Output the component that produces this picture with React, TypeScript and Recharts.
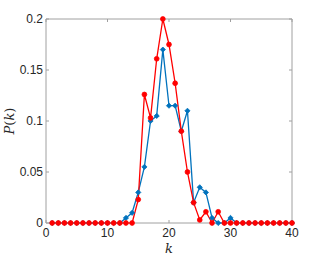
import { LineChart, Line, XAxis, YAxis } from 'recharts'

const K = Array.from({ length: 40 }, (_, i) => i + 1)

// P(k) for the two networks
const BLUE = [
  0, 0, 0, 0, 0, 0, 0, 0, 0, 0,
  0, 0, 0.005, 0.01, 0.03, 0.055, 0.1, 0.105, 0.17, 0.115,
  0.115, 0.09, 0.11, 0.02, 0.035, 0.03, 0.005, 0, 0, 0.005,
  0, 0, 0, 0, 0, 0, 0, 0, 0, 0,
]
const RED = [
  0, 0, 0, 0, 0, 0, 0, 0, 0, 0,
  0, 0, 0, 0, 0.023, 0.126, 0.103, 0.161, 0.2, 0.175,
  0.137, 0.09, 0.05, 0.02, 0.003, 0.011, 0, 0.011, 0, 0,
  0, 0, 0, 0, 0, 0, 0, 0, 0, 0,
]
const X_TICKS = [0, 10, 20, 30, 40]
const Y_TICKS = [0, 0.05, 0.1, 0.15, 0.2]

const data = K.map((k, i) => ({ k, blue: BLUE[i], red: RED[i] }))

const AXIS = '#a0a0a0'
const TEXT = '#262626'
const FONT = 'Liberation Sans, Arial, Helvetica, sans-serif'
const tickStyle = { fontSize: 12, fill: TEXT, fontFamily: FONT }
const noTick = () => <g />

function Diamond(props: any) {
  const { cx, cy } = props
  if (cx == null || cy == null) return null
  const r = 2.6
  return (
    <path
      d={`M${cx},${cy - r}L${cx + r},${cy}L${cx},${cy + r}L${cx - r},${cy}Z`}
      fill="#0072bd"
      stroke="#0072bd"
      strokeWidth={0.8}
    />
  )
}

function XLabel(props: any) {
  const { viewBox } = props
  const x = viewBox.x + viewBox.width / 2
  return (
    <text x={x} y={253} textAnchor="middle" fontFamily="DejaVu Serif, serif" fontStyle="italic" fontSize={13} fill={TEXT}>
      k
    </text>
  )
}

function YLabel(props: any) {
  const { viewBox } = props
  const y = viewBox.y + viewBox.height / 2
  return (
    <text
      x={14}
      y={y}
      transform={`rotate(-90 14 ${y})`}
      textAnchor="middle"
      fontFamily="DejaVu Serif, serif"
      fontSize={13}
      fill={TEXT}
    >
      <tspan fontStyle="italic">P</tspan>
      <tspan>(</tspan>
      <tspan fontStyle="italic">k</tspan>
      <tspan>)</tspan>
    </text>
  )
}

export default function App() {
  return (
    <div style={{ position: 'absolute', left: 0, top: 0, background: '#fff' }}>
      <LineChart width={323} height={260} data={data} margin={{ top: 18, right: 26, bottom: 7, left: 0 }}>
        <XAxis
          dataKey="k"
          type="number"
          domain={[0, 40]}
          ticks={X_TICKS}
          stroke={AXIS}
          tickSize={-3}
          tickMargin={8}
          tick={tickStyle}
          height={30}
          label={<XLabel />}
        />
        <XAxis
          xAxisId="top"
          dataKey="k"
          orientation="top"
          type="number"
          domain={[0, 40]}
          ticks={X_TICKS}
          stroke={AXIS}
          tickSize={-3}
          tick={noTick}
          height={1}
        />
        <YAxis
          type="number"
          domain={[0, 0.2]}
          ticks={Y_TICKS}
          stroke={AXIS}
          tickSize={-3}
          tickMargin={6}
          tick={tickStyle}
          width={46}
          label={<YLabel />}
        />
        <YAxis
          yAxisId="right"
          orientation="right"
          type="number"
          domain={[0, 0.2]}
          ticks={Y_TICKS}
          stroke={AXIS}
          tickSize={-3}
          tick={noTick}
          width={5}
        />
        {/* invisible series so the box axes (top/right) get drawn */}
        <Line
          xAxisId="top"
          yAxisId="right"
          dataKey="red"
          stroke="none"
          dot={false}
          activeDot={false}
          legendType="none"
          isAnimationActive={false}
        />
        <Line
          dataKey="blue"
          stroke="#0072bd"
          strokeWidth={1.3}
          dot={<Diamond />}
          isAnimationActive={false}
        />
        <Line
          dataKey="red"
          stroke="#ff0000"
          strokeWidth={1.3}
          dot={{ r: 2.4, fill: '#ff0000', stroke: '#ff0000', strokeWidth: 0.8 }}
          isAnimationActive={false}
        />
      </LineChart>
    </div>
  )
}
